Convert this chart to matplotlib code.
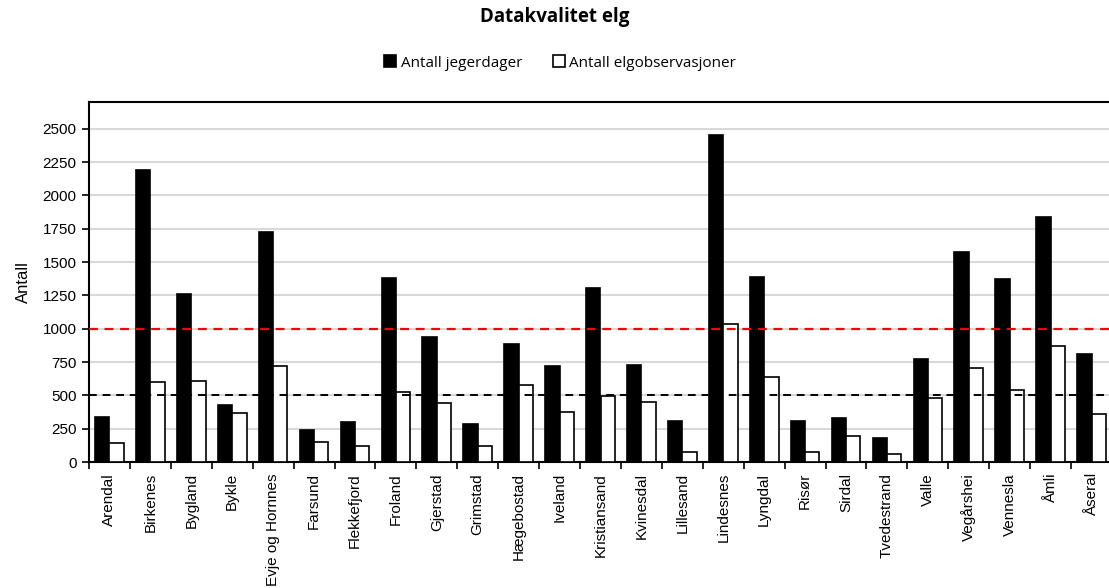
import numpy as np
import matplotlib.pyplot as plt

kommuner = ['Arendal', 'Birkenes', 'Bygland', 'Bykle', 'Evje og Hornnes', 'Farsund',
            'Flekkefjord', 'Froland', 'Gjerstad', 'Grimstad', 'Hægebostad', 'Iveland',
            'Kristiansand', 'Kvinesdal', 'Lillesand', 'Lindesnes', 'Lyngdal', 'Risør',
            'Sirdal', 'Tvedestrand', 'Valle', 'Vegårshei', 'Vennesla', 'Åmli', 'Åseral']
jegerdager = [340, 2187, 1262, 427, 1727, 240, 297, 1377, 935, 287, 882, 717,
              1305, 725, 307, 2450, 1385, 307, 330, 180, 770, 1572, 1372, 1840, 812]
elgobs = [140, 598, 607, 370, 720, 153, 123, 522, 442, 117, 580, 377,
          495, 450, 77, 1037, 637, 77, 192, 62, 477, 702, 537, 867, 360]
yticks = [0, 250, 500, 750, 1000, 1250, 1500, 1750, 2000, 2250, 2500]

plt.rcParams['font.family'] = ['Liberation Sans', 'DejaVu Sans']

fig = plt.figure(figsize=(11.09, 5.88), dpi=100)
ax = fig.add_axes([89 / 1109, 126 / 588, 1023 / 1109, 360 / 588])

x = np.arange(len(kommuner))
w = 0.35
ax.bar(x - w / 2, jegerdager, w, color='black', edgecolor='black', lw=1.2,
       label='Antall jegerdager', zorder=3)
ax.bar(x + w / 2, elgobs, w, color='white', edgecolor='black', lw=1.2,
       label='Antall elgobservasjoner', zorder=3)

ax.axhline(1000, color='#ff0000', ls=(0, (4, 3)), lw=1.6, zorder=4)
ax.axhline(500, color='black', ls=(0, (4, 3)), lw=1.4, zorder=4)

ax.set_ylim(0, 2700)
ax.set_xlim(-0.5, 24.45)
ax.set_yticks(yticks)
ax.tick_params(axis='y', labelsize=11, length=5, width=1.2, color='black', pad=4)
ax.yaxis.grid(True, color='#d9d9d9', lw=1.5, zorder=0)
ax.set_axisbelow(True)

ax.set_xticks(x)
ax.set_xticklabels(kommuner, rotation=90, fontsize=11)
ax.tick_params(axis='x', which='major', length=0, pad=8)
ax.set_xticks(np.arange(-0.5, len(kommuner), 1), minor=True)
ax.tick_params(axis='x', which='minor', length=5, width=1.2)

for s in ax.spines.values():
    s.set_linewidth(1.5)
    s.set_color('black')

ax.set_ylabel('Antall', fontsize=12, labelpad=8)

fig.text(0.5, 1 - 17 / 588, 'Datakvalitet elg', ha='center', va='center',
         fontsize=13.5, fontweight='bold', family=['Open Sans', 'DejaVu Sans'])
fig.legend(loc='center', bbox_to_anchor=(0.505, 1 - 63 / 588), ncol=2, frameon=False,
           handlelength=0.8, handleheight=0.8, handletextpad=0.3,
           columnspacing=2.0, prop={'family': ['Open Sans', 'DejaVu Sans'], 'size': 11})

fig.savefig('out.png', dpi=100)
